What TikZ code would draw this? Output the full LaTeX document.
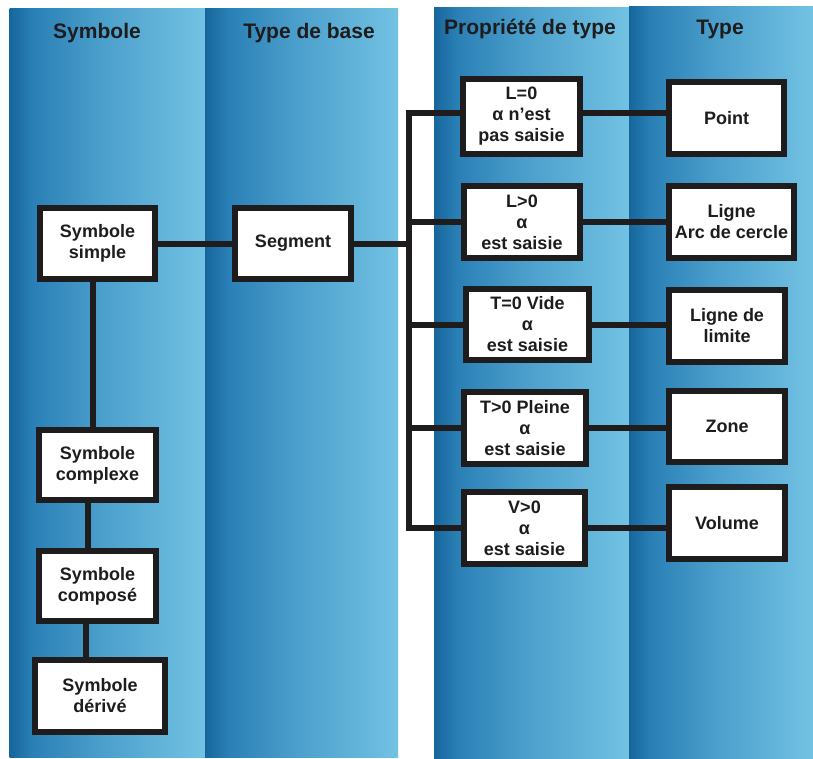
\documentclass[tikz,border=0pt]{standalone}
\usepackage{fontspec}
\setmainfont{Liberation Sans}
\definecolor{gA}{RGB}{22,102,156}
\definecolor{gB}{RGB}{42,128,182}
\definecolor{gC}{RGB}{74,158,203}
\definecolor{gD}{RGB}{114,194,227}
\definecolor{ink}{RGB}{30,28,28}
\pgfdeclarehorizontalshading{colgrad}{100bp}{color(0bp)=(gA); color(25bp)=(gA); color(31bp)=(gB); color(48bp)=(gC); color(75bp)=(gD); color(100bp)=(gD)}
\tikzset{
  col/.style={shading=colgrad, draw=none},
  head/.style={font=\fontsize{21}{23}\selectfont\bfseries, text=ink, inner sep=0pt},
  box/.style={draw=ink, fill=white, line width=6pt, rectangle, inner sep=0pt,
    font=\fontsize{18}{21}\selectfont\bfseries, text=ink, align=center},
  conn/.style={draw=ink, line width=6pt, line join=miter}
}
\begin{document}
\begin{tikzpicture}[x=1pt,y=-1pt]
\useasboundingbox (0,0) rectangle (813,758);
% columns
\shade[col] (9.5,8.5) rectangle (205,757);
\shade[col] (205,8.5) rectangle (398,757);
\shade[col] (434,7) rectangle (629,758);
\shade[col] (629,6) rectangle (813,758);
% headings
\node[head] (h1) at (97,33) {Symbole};
\node[head] (h2) at (309,33) {Type de base};
\node[head] (h3) at (530,29) {Propriété de type};
\node[head] (h4) at (720,29) {Type};
% left column
\node[box, minimum width=115, minimum height=71] (simple) at (97.5,243.5) {Symbole\\simple};
\node[box, minimum width=116, minimum height=71] (segment) at (293,243.5) {Segment};
\node[box, minimum width=117, minimum height=70] (complexe) at (97.5,465) {Symbole\\complexe};
\node[box, minimum width=117, minimum height=70] (compose) at (97.5,586) {Symbole\\composé};
\node[box, minimum width=130, minimum height=72] (derive) at (100,696) {Symbole\\dérivé};
% properties
\node[box, minimum width=117, minimum height=75] (L0) at (521.5,116.5) {L=0\\α n’est\\pas saisie};
\node[box, minimum width=116, minimum height=72] (Lp) at (522,222) {L>0\\α\\est saisie};
\node[box, minimum width=123, minimum height=71] (T0) at (527.5,324.5) {T=0 Vide\\α\\est saisie};
\node[box, minimum width=122, minimum height=72] (Tp) at (525,428) {T>0 Pleine\\α\\est saisie};
\node[box, minimum width=121, minimum height=72] (Vp) at (524.5,528) {V>0\\α\\est saisie};
% types
\node[box, minimum width=115, minimum height=72] (point) at (726.5,118) {Point};
\node[box, minimum width=125, minimum height=72] (ligne) at (731.5,222) {Ligne\\Arc de cercle};
\node[box, minimum width=116, minimum height=72] (limite) at (727,326) {Ligne de\\limite};
\node[box, minimum width=116, minimum height=71] (zone) at (727,426.5) {Zone};
\node[box, minimum width=116, minimum height=72] (volume) at (727,523) {Volume};
% connectors
\coordinate (bus) at (408.5,0);
\draw[conn] (simple.east) -- (segment.west);
\draw[conn] ([xshift=-4.5pt]simple.south) -- ([xshift=-4.5pt]simple.south |- complexe.north);
\draw[conn] ([xshift=-9.5pt]complexe.south) -- ([xshift=-9.5pt]complexe.south |- compose.north);
\draw[conn] ([xshift=-11.5pt]compose.south) -- ([xshift=-11.5pt]compose.south |- derive.north);
\draw[conn] ([yshift=3.5pt]L0.west) -| (bus |- Vp.west) -- (Vp.west);
\draw[conn] (segment.east) -- (segment.east -| bus);
\draw[conn] (Lp.west) -- (Lp.west -| bus);
\draw[conn] (T0.west) -- (T0.west -| bus);
\draw[conn] (Tp.west) -- (Tp.west -| bus);
\draw[conn] ([yshift=3.5pt]L0.east) -- ([yshift=3.5pt]L0.east -| point.west);
\draw[conn] (Lp.east) -- (ligne.west);
\draw[conn] (T0.east) -- (T0.east -| limite.west);
\draw[conn] (Tp.east) -- (Tp.east -| zone.west);
\draw[conn] (Vp.east) -- (Vp.east -| volume.west);
\end{tikzpicture}
\end{document}
